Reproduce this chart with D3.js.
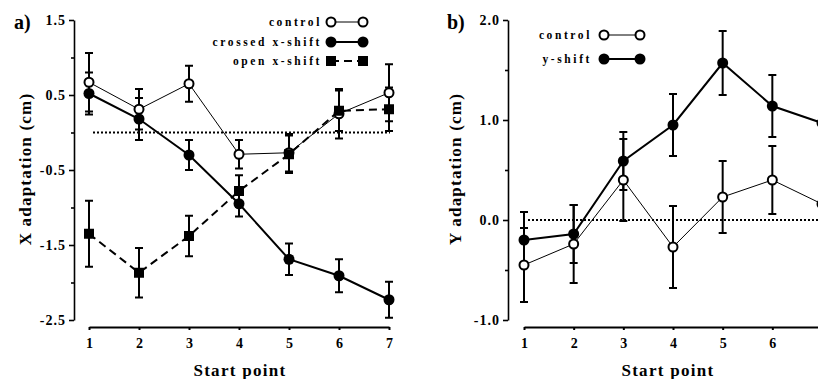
<!DOCTYPE html>
<html>
<head>
<meta charset="utf-8">
<script src="https://d3js.org/d3.v7.min.js"></script>
<style>
  body { margin: 0; background: #fff; }
  svg text { font-family: "Liberation Serif", "Times New Roman", serif; font-weight: bold; fill: #000; }
</style>
</head>
<body>
<svg id="chart" width="818" height="379"></svg>
<script>
// start points (x axis of both panels)
const startPoints = [1, 2, 3, 4, 5, 6, 7];

// panel a) X adaptation (cm)
const xControl = [0.67, 0.31, 0.65, -0.29, -0.27, 0.25, 0.53];
const xControlErr = [0.39, 0.27, 0.24, 0.19, 0.25, 0.33, 0.38];
const xCrossed = [0.52, 0.18, -0.30, -0.95, -1.69, -1.91, -2.23];
const xCrossedErr = [0.28, 0.28, 0.20, 0.17, 0.21, 0.22, 0.24];
const xOpen = [-1.35, -1.87, -1.38, -0.78, -0.29, 0.29, 0.31];
const xOpenErr = [0.44, 0.33, 0.27, 0.21, 0.25, 0.27, 0.29];
const xTicksMajor = [1.5, 0.5, -0.5, -1.5, -2.5];
const xTicksMinor = [1, 0, -1, -2];

// panel b) Y adaptation (cm)
const yControl = [-0.45, -0.24, 0.40, -0.27, 0.23, 0.40, 0.16];
const yControlErr = [0.37, 0.39, 0.41, 0.41, 0.36, 0.34, 0.35];
const yShift = [-0.20, -0.14, 0.59, 0.95, 1.57, 1.14, 0.97];
const yShiftErr = [0.28, 0.29, 0.29, 0.31, 0.32, 0.31, 0.30];
const yTicksMajor = [2, 1, 0, -1];
const yTicksMinor = [1.5, 0.5, -0.5];

const svg = d3.select('#chart');
svg.append('rect').attr('width', 818).attr('height', 379).attr('fill', '#fff');

function drawPanel(opt) {
    const g = svg.append('g');
    const x = d3.scaleLinear().domain([1, 7]).range(opt.xRange);
    const y = d3.scaleLinear().domain(opt.yDomain).range([320, 20]);

    // y axis, major (labelled) and minor ticks; plain hyphen for minus like the scan
    const yAxis = d3.axisLeft(y).tickValues(opt.major).tickSize(5).tickSizeOuter(0)
        .tickFormat(d => d.toFixed(1));
    const ya = g.append('g').attr('transform', `translate(${opt.yAxisX},0)`).call(yAxis);
    ya.selectAll('text').attr('font-size', 14).attr('letter-spacing', 1).attr('x', -8);
    ya.append('g').call(d3.axisLeft(y).tickValues(opt.minor).tickSize(3).tickFormat(''))
        .select('.domain').remove();
    g.selectAll('.domain, .tick line').attr('stroke', '#000').attr('stroke-width', 1.6);

    // x axis, separate from the y axis; only ticks that fall inside the picture
    const shown = startPoints.filter(d => x(d) < 818);
    const xa = g.append('g').attr('transform', 'translate(0,327)')
        .call(d3.axisBottom(x).tickValues(shown).tickSize(3).tickSizeOuter(0).tickFormat(d3.format('d')));
    xa.selectAll('text').attr('font-size', 14).attr('dy', '1.05em');
    xa.selectAll('.domain, .tick line').attr('stroke', '#000').attr('stroke-width', 2);

    // zero reference line
    g.append('line')
        .attr('x1', x(1) + 4).attr('x2', x(7) + 1)
        .attr('y1', y(0)).attr('y2', y(0))
        .attr('stroke', '#000').attr('stroke-width', 2).attr('stroke-dasharray', '2,2');

    // series
    const line = d3.line().x((d, i) => x(startPoints[i])).y(d => y(d));
    opt.series.forEach(s => {
        g.append('path').datum(s.values)
            .attr('d', line).attr('fill', 'none').attr('stroke', '#000')
            .attr('stroke-width', s.width).attr('stroke-dasharray', s.dash || null);
    });
    opt.series.forEach(s => {
        s.values.forEach((v, i) => {
            const cx = x(startPoints[i]);
            const top = y(v + s.err[i]), bot = y(v - s.err[i]);
            g.append('line').attr('x1', cx).attr('x2', cx).attr('y1', top).attr('y2', bot)
                .attr('stroke', '#000').attr('stroke-width', 2);
            [top, bot].forEach(yy => g.append('line')
                .attr('x1', cx - 4).attr('x2', cx + 4).attr('y1', yy).attr('y2', yy)
                .attr('stroke', '#000').attr('stroke-width', 2));
        });
    });
    opt.series.forEach(s => {
        s.values.forEach((v, i) => drawMarker(g, s.marker, x(startPoints[i]), y(v)));
    });

    // legend
    opt.series.forEach((s, k) => {
        const ly = opt.legend.y[k];
        g.append('text').attr('x', opt.legend.textX).attr('y', ly + 4)
            .attr('text-anchor', 'end').attr('font-size', 11.5).attr('letter-spacing', 2.6)
            .text(s.name);
        g.append('line').attr('x1', opt.legend.m1).attr('x2', opt.legend.m2)
            .attr('y1', ly).attr('y2', ly).attr('stroke', '#000')
            .attr('stroke-width', s.width).attr('stroke-dasharray', s.dash || null);
        drawMarker(g, s.marker, opt.legend.m1, ly);
        drawMarker(g, s.marker, opt.legend.m2, ly);
    });

    // panel letter and axis titles
    g.append('text').attr('x', opt.letterX).attr('y', 29).attr('font-size', 20).text(opt.letter);
    g.append('text').attr('transform', `translate(${opt.titleX},169) rotate(-90)`)
        .attr('text-anchor', 'middle').attr('font-size', 17).attr('letter-spacing', 1.2)
        .text(opt.yTitle);
    g.append('text').attr('x', opt.xTitleX).attr('y', 376).attr('text-anchor', 'middle')
        .attr('font-size', 17).attr('letter-spacing', 1.3).text('Start point');
}

function drawMarker(g, type, cx, cy) {
    if (type === 'square') {
        g.append('rect').attr('x', cx - 5).attr('y', cy - 5).attr('width', 10).attr('height', 10)
            .attr('fill', '#000');
    } else {
        g.append('circle').attr('cx', cx).attr('cy', cy).attr('r', type === 'open' ? 4.5 : 5.5)
            .attr('fill', type === 'open' ? '#fff' : '#000')
            .attr('stroke', '#000').attr('stroke-width', type === 'open' ? 2 : 0);
    }
}

drawPanel({
    xRange: [89, 389], yDomain: [-2.5, 1.5], yAxisX: 74,
    major: xTicksMajor, minor: xTicksMinor,
    letter: 'a)', letterX: 14, titleX: 31, yTitle: 'X adaptation (cm)', xTitleX: 240,
    legend: { y: [22, 42, 61], textX: 322, m1: 331, m2: 363 },
    series: [
        { name: 'control', values: xControl, err: xControlErr, marker: 'open', width: 1 },
        { name: 'crossed  x-shift', values: xCrossed, err: xCrossedErr, marker: 'filled', width: 2 },
        { name: 'open  x-shift', values: xOpen, err: xOpenErr, marker: 'square', width: 2, dash: '8,5' }
    ]
});

drawPanel({
    xRange: [524, 822], yDomain: [-1, 2], yAxisX: 508,
    major: yTicksMajor, minor: yTicksMinor,
    letter: 'b)', letterX: 447, titleX: 461, yTitle: 'Y adaptation (cm)', xTitleX: 668,
    legend: { y: [35, 59], textX: 592, m1: 604, m2: 640 },
    series: [
        { name: 'control', values: yControl, err: yControlErr, marker: 'open', width: 1 },
        { name: 'y-shift', values: yShift, err: yShiftErr, marker: 'filled', width: 2 }
    ]
});
</script>
</body>
</html>
